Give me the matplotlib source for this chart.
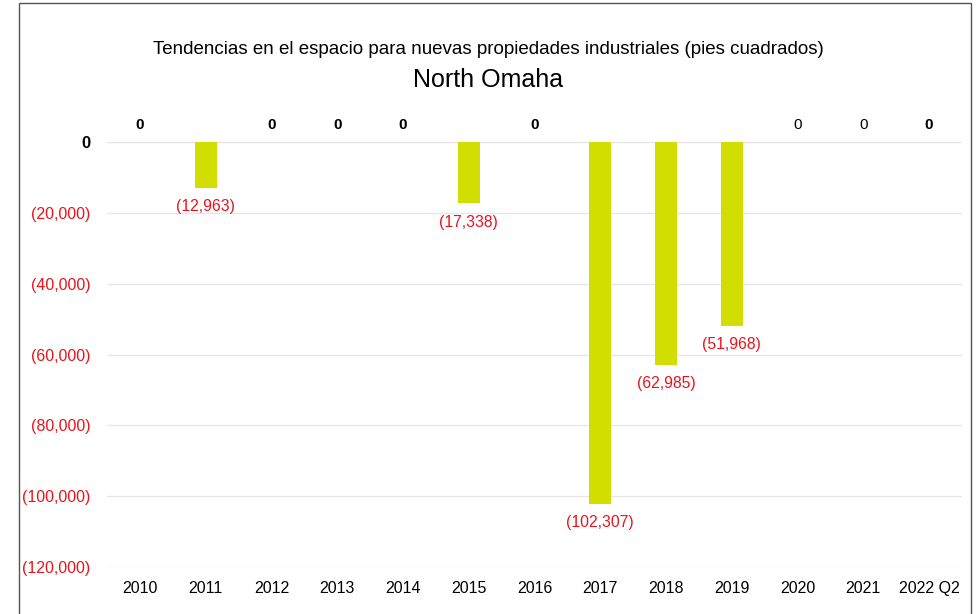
import matplotlib.pyplot as plt
from matplotlib.patches import Rectangle
from matplotlib.ticker import FuncFormatter

plt.rcParams['font.family'] = ['Liberation Sans', 'DejaVu Sans']

years = ['2010', '2011', '2012', '2013', '2014', '2015', '2016',
         '2017', '2018', '2019', '2020', '2021', '2022 Q2']
space = [0, -12963, 0, 0, 0, -17338, 0, -102307, -62985, -51968, 0, 0, 0]
# zero labels drawn in bold for these years
bold_zero = [True, False, True, True, True, False, True,
             False, False, False, False, False, True]

fig = plt.figure(figsize=(9.77, 6.14), dpi=100)
fig.patch.set_facecolor('white')
ax = fig.add_axes([107 / 977, 1 - 567 / 614, 855 / 977, 425 / 614])

x = range(len(years))
ax.bar(x, space, width=0.33, color='#d2dd00', zorder=3)

ax.set_xlim(-0.5, len(years) - 0.5)
ax.set_ylim(-120000, 0)
ax.set_yticks(range(-120000, 1, 20000))
ax.yaxis.set_major_formatter(FuncFormatter(
    lambda v, p: '0' if v == 0 else '({:,.0f})'.format(abs(v))))
ax.set_xticks(list(x))
ax.set_xticklabels(years)

ax.grid(axis='y', color='#e6e6e6', linewidth=1, zorder=0)
for s in ax.spines.values():
    s.set_visible(False)
ax.tick_params(axis='both', length=0, labelsize=11.5)
ax.tick_params(axis='y', pad=12)
ax.tick_params(axis='x', pad=10)
for t in ax.get_yticklabels():
    if t.get_text() == '0':
        t.set_color('black')
        t.set_fontweight('bold')
        t.set_fontsize(12)
    else:
        t.set_color('#e8141c')

# value labels
for xi, v, b in zip(x, space, bold_zero):
    if v == 0:
        ax.annotate('0', (xi, 0), xytext=(0, 7), textcoords='offset points',
                    ha='center', va='bottom', fontsize=11,
                    fontweight='bold' if b else 'normal', color='black')
    else:
        ax.annotate('({:,})'.format(abs(v)), (xi, v), xytext=(0, -8),
                    textcoords='offset points', ha='center', va='top',
                    fontsize=11.3, color='#e8141c')

fig.text(0.5, 1 - 50 / 614,
         'Tendencias en el espacio para nuevas propiedades industriales (pies cuadrados)',
         ha='center', va='center', fontsize=13.5)
fig.text(0.5, 1 - 80 / 614, 'North Omaha', ha='center', va='center', fontsize=18)

# outer frame
fig.patches.append(Rectangle((19 / 977, -0.05), 952 / 977, 1.05 - 3 / 614,
                             transform=fig.transFigure, fill=False,
                             edgecolor='#555555', linewidth=1))

fig.savefig('out.png', dpi=100, facecolor='white')
